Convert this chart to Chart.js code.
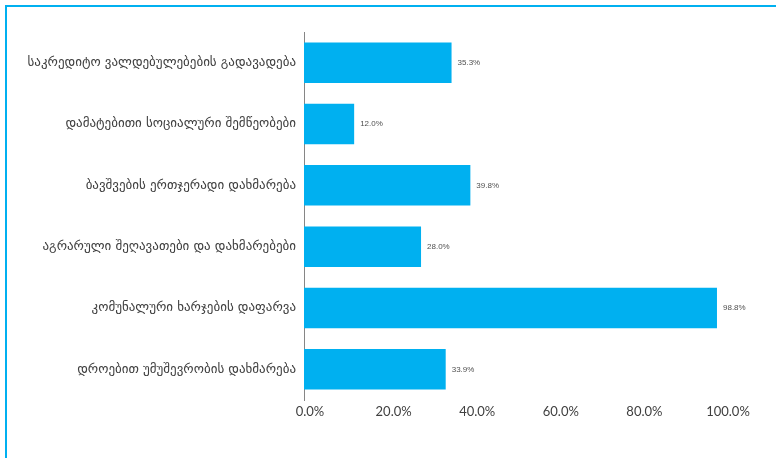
<!DOCTYPE html>
<html>
<head>
<meta charset="utf-8">
<script src="https://cdn.jsdelivr.net/npm/chart.js@4/dist/chart.umd.min.js"></script>
<style>
  html, body { margin: 0; padding: 0; background: #fff; }
  body { width: 776px; height: 458px; position: relative; overflow: hidden; }
  #frame {
    position: absolute; left: 5px; top: 5px; width: 800px; height: 500px;
    border-left: 2px solid #00B0F0; border-top: 2px solid #00B0F0;
  }
  #wrap { position: absolute; left: 0; top: 0; width: 776px; height: 458px; }
</style>
</head>
<body>
<div id="frame"></div>
<div id="wrap"><canvas id="chart"></canvas></div>
<script>
// Chart data
const categories = [
  'საკრედიტო ვალდებულებების გადავადება',
  'დამატებითი სოციალური შემწეობები',
  'ბავშვების ერთჯერადი დახმარება',
  'აგრარული შეღავათები და დახმარებები',
  'კომუნალური ხარჯების დაფარვა',
  'დროებით უმუშევრობის დახმარება'
];
const shares = [35.3, 12.0, 39.8, 28.0, 98.8, 33.9];
const xTicks = [0, 20, 40, 60, 80, 100];

// value labels at the end of each bar
const valueLabels = {
  id: 'valueLabels',
  afterDatasetsDraw(chart) {
    const ctx = chart.ctx;
    const meta = chart.getDatasetMeta(0);
    ctx.save();
    ctx.font = '8px "Liberation Sans", sans-serif';
    ctx.fillStyle = '#505050';
    ctx.textBaseline = 'middle';
    ctx.textAlign = 'left';
    meta.data.forEach((bar, i) => {
      ctx.fillText(shares[i].toFixed(1) + '%', bar.x + 6, bar.y);
    });
    ctx.restore();
  }
};

new Chart(document.getElementById('chart'), {
  type: 'bar',
  data: {
    labels: categories,
    datasets: [{
      data: shares,
      backgroundColor: '#00B0F0',
      borderWidth: 0,
      barPercentage: 0.66,
      categoryPercentage: 1.0
    }]
  },
  options: {
    indexAxis: 'y',
    responsive: true,
    maintainAspectRatio: false,
    animation: false,
    layout: { padding: { top: 32, right: 54, left: 0, bottom: 0 } },
    plugins: { legend: { display: false }, tooltip: { enabled: false } },
    scales: {
      x: {
        min: 0, max: 100,
        afterBuildTicks: axis => { axis.ticks = xTicks.map(v => ({ value: v })); },
        afterFit: axis => { axis.height = 58; },
        grid: { display: false, drawTicks: false },
        border: { display: false },
        ticks: {
          padding: 4,
          labelOffset: 6,
          color: '#404040',
          font: { family: 'Lato, "Open Sans", sans-serif', size: 13 },
          callback: v => v.toFixed(1) + '%'
        }
      },
      y: {
        afterFit: axis => { axis.width = 304; },
        grid: { display: false, drawTicks: false },
        border: { display: true, color: '#868686', width: 1 },
        ticks: {
          padding: 8,
          color: '#404040',
          font: { family: '"DejaVu Sans", sans-serif', size: 13 }
        }
      }
    }
  },
  plugins: [valueLabels]
});
</script>
</body>
</html>
